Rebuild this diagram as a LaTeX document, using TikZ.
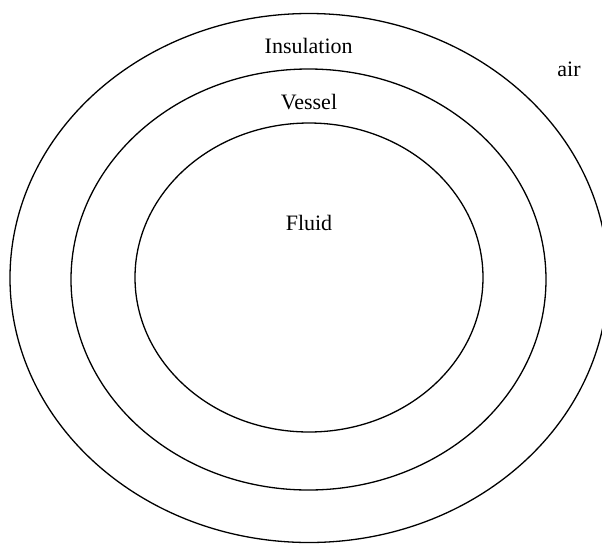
\documentclass[tikz,border=0pt]{standalone}
\usepackage{fontspec}
\setmainfont{Liberation Serif}
\begin{document}
\begin{tikzpicture}[x=0.5pt,y=-0.5pt,
  ring/.style={draw=black,line width=0.65pt},
  lbl/.style={anchor=base,inner sep=0pt,font=\fontsize{11}{13}\selectfont}]
\useasboundingbox (0,0) rectangle (602,543);
\clip (0,0) rectangle (602,543);
\draw[ring] (309,278) ellipse [x radius=299, y radius=264.5];
\draw[ring] (308.5,279.5) ellipse [x radius=237.5, y radius=210.5];
\draw[ring] (309,277.5) ellipse [x radius=174, y radius=154.5];
\node[lbl] (insulation) at (308.7,53.3) {Insulation};
\node[lbl] (vessel) at (309,109.3) {Vessel};
\node[lbl] (fluid) at (309,230) {Fluid};
\node[lbl] (air) at (569,76) {air};
\end{tikzpicture}
\end{document}
